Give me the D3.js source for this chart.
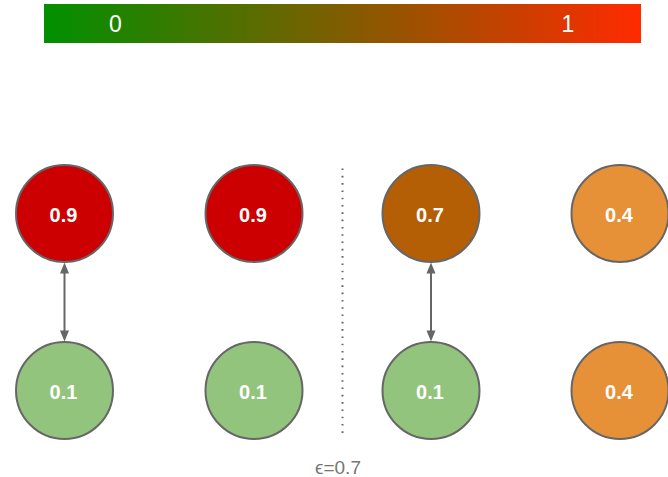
<!DOCTYPE html>
<html lang="en">
    <head>
        <meta charset="utf-8">
        <title>Epsilon pairs</title>
        <script type="text/javascript" src="https://cdn.jsdelivr.net/npm/d3@7"></script>
        <style>
            body { margin: 0; background: #fff; }
        </style>
    </head>
    <body>
        <script type="text/javascript">
            var w = 668;
            var h = 477;

            // data
            var columns = ["a", "b", "c", "d"];
            var topValues = [0.9, 0.9, 0.7, 0.4];
            var bottomValues = [0.1, 0.1, 0.1, 0.4];
            var topColors = ["#cc0000", "#cc0000", "#b45f06", "#e69138"];
            var bottomColors = ["#93c47d", "#93c47d", "#93c47d", "#e69138"];
            var linkedColumns = ["a", "c"];
            var barTicks = [0, 1];
            var epsilon = 0.7;

            var r = 48.5;
            var stroke = "#666666";

            var svg = d3.select("body")
                        .append("svg")
                        .attr("width", w)
                        .attr("height", h);

            // colour bar on top
            var grad = svg.append("defs")
                          .append("linearGradient")
                          .attr("id", "bar");
            grad.append("stop").attr("offset", "0%").attr("stop-color", "#009000");
            grad.append("stop").attr("offset", "100%").attr("stop-color", "#ff2a00");

            svg.append("rect")
               .attr("x", 44)
               .attr("y", 4)
               .attr("width", 597)
               .attr("height", 39)
               .attr("fill", "url(#bar)");

            var barScale = d3.scaleLinear()
                             .domain([0, 1])
                             .range([115.5, 568]);

            svg.selectAll(".barTick")
               .data(barTicks)
               .enter()
               .append("text")
               .attr("class", "barTick")
               .attr("x", function(d) { return barScale(d); })
               .attr("y", 32)
               .attr("text-anchor", "middle")
               .attr("font-family", "Liberation Sans, Arial, sans-serif")
               .attr("font-size", "23px")
               .attr("fill", "#ffffff")
               .text(function(d) { return d; });

            // node positions
            var xScale = d3.scaleOrdinal()
                           .domain(columns)
                           .range([64.5, 254, 431, 620]);

            var yScale = d3.scalePoint()
                           .domain(["top", "bottom"])
                           .range([213.5, 390.5]);

            var nodes = [];
            columns.forEach(function(c, i) {
                nodes.push({col: c, row: "top", value: topValues[i], fill: topColors[i]});
                nodes.push({col: c, row: "bottom", value: bottomValues[i], fill: bottomColors[i]});
            });

            // dotted separator
            svg.append("line")
               .attr("x1", 342.5)
               .attr("x2", 342.5)
               .attr("y1", yScale("top") - 45)
               .attr("y2", yScale("bottom") + 45)
               .attr("stroke", stroke)
               .attr("stroke-width", 2)
               .attr("stroke-dasharray", "1.6 5.7");

            // double-headed arrows between linked pairs
            var arrowTop = yScale("top") + r + 0.5;
            var arrowBottom = yScale("bottom") - r - 0.5;
            var headLen = 11;
            var headW = 4.5;

            var arrows = svg.selectAll(".arrow")
                            .data(linkedColumns)
                            .enter()
                            .append("g")
                            .attr("class", "arrow");

            arrows.append("line")
                  .attr("x1", function(d) { return xScale(d); })
                  .attr("x2", function(d) { return xScale(d); })
                  .attr("y1", arrowTop + headLen - 1)
                  .attr("y2", arrowBottom - headLen + 1)
                  .attr("stroke", stroke)
                  .attr("stroke-width", 2);

            arrows.append("path")
                  .attr("d", function(d) {
                      var x = xScale(d);
                      return "M" + x + "," + arrowTop +
                             "L" + (x + headW) + "," + (arrowTop + headLen) +
                             "L" + (x - headW) + "," + (arrowTop + headLen) + "Z";
                  })
                  .attr("fill", stroke);

            arrows.append("path")
                  .attr("d", function(d) {
                      var x = xScale(d);
                      return "M" + x + "," + arrowBottom +
                             "L" + (x + headW) + "," + (arrowBottom - headLen) +
                             "L" + (x - headW) + "," + (arrowBottom - headLen) + "Z";
                  })
                  .attr("fill", stroke);

            // circles
            var node = svg.selectAll(".node")
                          .data(nodes)
                          .enter()
                          .append("g")
                          .attr("class", "node");

            node.append("circle")
                .attr("cx", function(d) { return xScale(d.col); })
                .attr("cy", function(d) { return yScale(d.row); })
                .attr("r", r)
                .attr("fill", function(d) { return d.fill; })
                .attr("stroke", stroke)
                .attr("stroke-width", 2);

            node.append("text")
                .attr("x", function(d) { return xScale(d.col) - 1; })
                .attr("y", function(d) { return yScale(d.row) + 8.5; })
                .attr("text-anchor", "middle")
                .attr("font-family", "Liberation Sans, Arial, sans-serif")
                .attr("font-weight", "bold")
                .attr("font-size", "20px")
                .attr("fill", "#ffffff")
                .text(function(d) { return d.value; });

            // epsilon label
            svg.append("text")
               .attr("x", 338)
               .attr("y", 474)
               .attr("text-anchor", "middle")
               .attr("font-family", "Liberation Sans, Arial, sans-serif")
               .attr("font-size", "19px")
               .attr("fill", "#757575")
               .text("\u03f5=" + epsilon);
        </script>
    </body>
</html>
